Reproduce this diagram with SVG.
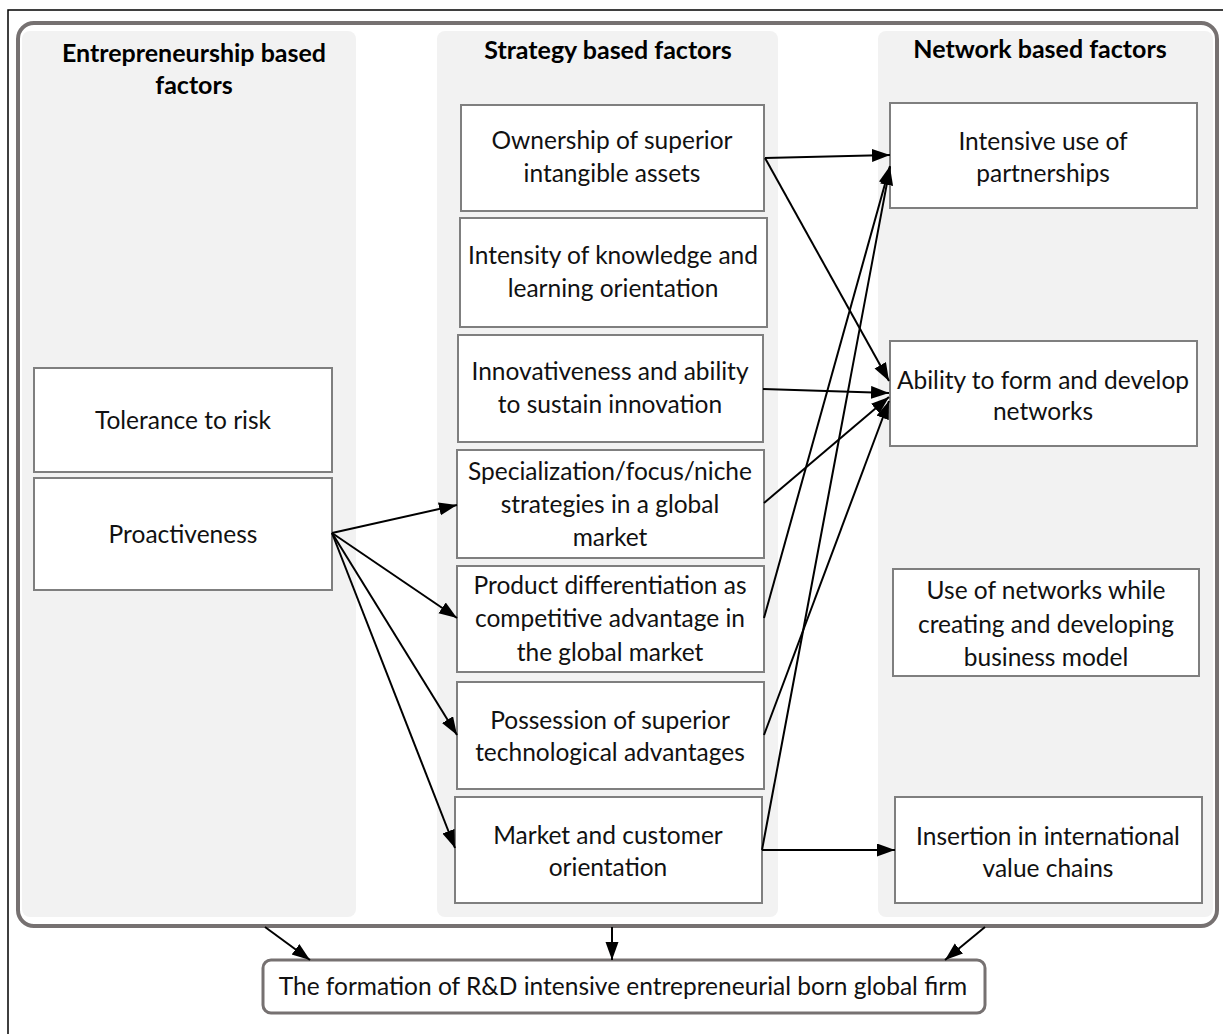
<svg xmlns="http://www.w3.org/2000/svg" width="1223" height="1034" viewBox="0 0 1223 1034">
  <defs>
    <style>
      .col { fill: #f2f2f2; }
      .box { fill: #ffffff; stroke: #7f7f7f; stroke-width: 2; }
      .hdr { font-family: Lato, "Liberation Sans", sans-serif; font-weight: bold; font-size: 25px; fill: #000; text-anchor: middle; }
      .lbl { font-family: Lato, "Liberation Sans", sans-serif; font-size: 24.5px; fill: #111; text-anchor: middle; }
      .conn { stroke: #000; stroke-width: 2; fill: none; marker-end: url(#arrow); }
    </style>
    <marker id="arrow" markerUnits="userSpaceOnUse" markerWidth="20" markerHeight="14" refX="18" refY="6.5" orient="auto">
      <path d="M0,0 L18,6.5 L0,13 Z" fill="#000"/>
    </marker>
  </defs>

  <!-- page frame -->
  <path d="M8,1034 V10 H1223" fill="none" stroke="#000" stroke-width="1.5"/>

  <!-- outer rounded container -->
  <rect x="18" y="23" width="1199" height="903" rx="16" ry="16" fill="#ffffff" stroke="#767171" stroke-width="4"/>

  <!-- column backgrounds -->
  <rect class="col" x="22" y="31" width="334" height="886" rx="8"/>
  <rect class="col" x="437" y="31" width="341" height="886" rx="8"/>
  <rect class="col" x="878" y="31" width="335" height="886" rx="8"/>

  <!-- column headers -->
  <g id="hdr-entrepreneurship">
    <text class="hdr" x="194" y="62">Entrepreneurship based</text>
    <text class="hdr" x="194" y="94">factors</text>
  </g>
  <g id="hdr-strategy">
    <text class="hdr" x="608" y="59">Strategy based factors</text>
  </g>
  <g id="hdr-network">
    <text class="hdr" x="1040" y="58">Network based factors</text>
  </g>

  <!-- entrepreneurship based factors -->
  <g id="tolerance">
    <rect class="box" x="34" y="368" width="298" height="104"/>
    <text class="lbl" x="183" y="429">Tolerance to risk</text>
  </g>
  <g id="proactiveness">
    <rect class="box" x="34" y="478" width="298" height="112"/>
    <text class="lbl" x="183" y="543">Proactiveness</text>
  </g>

  <!-- strategy based factors -->
  <g id="ownership">
    <rect class="box" x="461" y="105" width="303" height="106"/>
    <text class="lbl" x="612" y="149">Ownership of superior</text>
    <text class="lbl" x="612" y="182">intangible assets</text>
  </g>
  <g id="knowledge">
    <rect class="box" x="460" y="218" width="307" height="109"/>
    <text class="lbl" x="613" y="264">Intensity of knowledge and</text>
    <text class="lbl" x="613" y="297">learning orientation</text>
  </g>
  <g id="innovativeness">
    <rect class="box" x="458" y="335" width="305" height="107"/>
    <text class="lbl" x="610" y="380">Innovativeness and ability</text>
    <text class="lbl" x="610" y="413">to sustain innovation</text>
  </g>
  <g id="specialization">
    <rect class="box" x="457" y="450" width="307" height="108"/>
    <text class="lbl" x="610" y="480">Specialization/focus/niche</text>
    <text class="lbl" x="610" y="513">strategies in a global</text>
    <text class="lbl" x="610" y="546">market</text>
  </g>
  <g id="differentiation">
    <rect class="box" x="457" y="566" width="307" height="106"/>
    <text class="lbl" x="610" y="594">Product differentiation as</text>
    <text class="lbl" x="610" y="627">competitive advantage in</text>
    <text class="lbl" x="610" y="661">the global market</text>
  </g>
  <g id="technology">
    <rect class="box" x="457" y="682" width="307" height="107"/>
    <text class="lbl" x="610" y="729">Possession of superior</text>
    <text class="lbl" x="610" y="761">technological advantages</text>
  </g>
  <g id="market">
    <rect class="box" x="455" y="797" width="307" height="106"/>
    <text class="lbl" x="608" y="844">Market and customer</text>
    <text class="lbl" x="608" y="876">orientation</text>
  </g>

  <!-- network based factors -->
  <g id="partnerships">
    <rect class="box" x="890" y="103" width="307" height="105"/>
    <text class="lbl" x="1043" y="150">Intensive use of</text>
    <text class="lbl" x="1043" y="182">partnerships</text>
  </g>
  <g id="networks">
    <rect class="box" x="890" y="341" width="307" height="105"/>
    <text class="lbl" x="1043" y="389">Ability to form and develop</text>
    <text class="lbl" x="1043" y="420">networks</text>
  </g>
  <g id="business-model">
    <rect class="box" x="893" y="569" width="306" height="107"/>
    <text class="lbl" x="1046" y="599">Use of networks while</text>
    <text class="lbl" x="1046" y="633">creating and developing</text>
    <text class="lbl" x="1046" y="666">business model</text>
  </g>
  <g id="value-chains">
    <rect class="box" x="895" y="797" width="307" height="106"/>
    <text class="lbl" x="1048" y="845">Insertion in international</text>
    <text class="lbl" x="1048" y="877">value chains</text>
  </g>

  <!-- outcome -->
  <g id="outcome">
    <rect x="263" y="960" width="722" height="53" rx="8" ry="8" fill="#ffffff" stroke="#767171" stroke-width="3"/>
    <text class="lbl" x="623" y="995">The formation of R&amp;D intensive entrepreneurial born global firm</text>
  </g>

  <!-- connectors -->
  <g id="connectors">
    <line class="conn" x1="332" y1="533" x2="457" y2="505"/>
    <line class="conn" x1="332" y1="533" x2="457" y2="618"/>
    <line class="conn" x1="332" y1="533" x2="457" y2="735"/>
    <line class="conn" x1="332" y1="533" x2="455" y2="848"/>

    <line class="conn" x1="765" y1="158" x2="890" y2="155"/>
    <line class="conn" x1="765" y1="158" x2="889" y2="381"/>
    <line class="conn" x1="763" y1="389" x2="889" y2="393"/>
    <line class="conn" x1="764" y1="503" x2="889" y2="397"/>
    <line class="conn" x1="764" y1="618" x2="890" y2="166"/>
    <line class="conn" x1="764" y1="735" x2="889" y2="401"/>
    <line class="conn" x1="762" y1="850" x2="890" y2="167"/>
    <line class="conn" x1="762" y1="850" x2="895" y2="850"/>

    <line class="conn" x1="265" y1="927" x2="310" y2="960"/>
    <line class="conn" x1="612" y1="927" x2="612" y2="960"/>
    <line class="conn" x1="985" y1="927" x2="945" y2="960"/>
  </g>
</svg>
